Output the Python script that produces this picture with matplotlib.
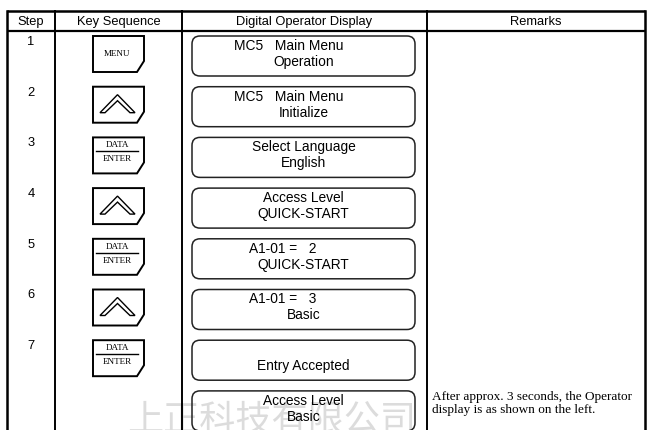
import matplotlib
matplotlib.use("Agg")
import matplotlib.pyplot as plt
from matplotlib.patches import Polygon, FancyBboxPatch

# table content
headers = ["Step", "Key Sequence", "Digital Operator Display", "Remarks"]
steps = ["1", "2", "3", "4", "5", "6", "7", ""]
keys = ["MENU", "UP", "DATA", "UP", "DATA", "UP", "DATA", ""]
display_lines = [
    ["MC5   Main Menu", "Operation"],
    ["MC5   Main Menu", "Initialize"],
    ["Select Language", "English"],
    ["Access Level", "QUICK-START"],
    ["A1-01 =   2", "QUICK-START"],
    ["A1-01 =   3", "Basic"],
    ["", "Entry Accepted"],
    ["Access Level", "Basic"],
]
line_shift = [
    [-15, 0], [-15, 0], [0, 0], [0, 0], [-21, 0], [-21, 0], [0, 0], [0, 0],
]
remarks = ["", "", "", "", "", "", "", "After approx. 3 seconds, the Operator\ndisplay is as shown on the left."]
watermark = "上正科技有限公司"

W, H = 647, 431
fig = plt.figure(figsize=(W / 100, H / 100), dpi=100)
ax = fig.add_axes([0, 0, 1, 1])
ax.set_xlim(0, W)
ax.set_ylim(H, 0)
ax.axis("off")

sans = "Liberation Sans"
serif = "Liberation Serif"

# column borders
cols = [7, 55, 182, 427, 645]
top, head_bot = 12, 32
ax.plot([cols[0], cols[-1]], [top, top], color="black", lw=1.8, solid_capstyle="butt")
ax.plot([cols[0], cols[-1]], [head_bot, head_bot], color="black", lw=1.6, solid_capstyle="butt")
for i, x in enumerate(cols):
    ax.plot([x, x], [top, H], color="black", lw=1.8 if i in (0, 4) else 1.4)

for i, h in enumerate(headers):
    ax.text((cols[i] + cols[i + 1]) / 2, 22, h, ha="center", va="center",
            fontsize=9.3, family=sans)

pitch = 50.7
row0 = 37


def draw_key(kind, y0):
    x0, x1 = 93, 144
    y1 = y0 + 36
    pts = [(x0, y0), (x1, y0), (x1, y1 - 11), (x1 - 7, y1), (x0, y1)]
    ax.add_patch(Polygon(pts, closed=True, fc="white", ec="black", lw=1.4, zorder=3))
    cx = (x0 + x1) / 2 - 1
    if kind == "MENU":
        ax.text(cx, y0 + 17, "MENU", ha="center", va="center", fontsize=6.5,
                family=serif, zorder=4)
    elif kind == "DATA":
        ax.text(cx, y0 + 7, "DATA", ha="center", va="center", fontsize=6.6,
                family=serif, zorder=4)
        ax.plot([x0 + 3, x1 - 6], [y0 + 14, y0 + 14], color="black", lw=1.0, zorder=4)
        ax.text(cx, y0 + 21, "ENTER", ha="center", va="center", fontsize=6.6,
                family=serif, zorder=4)
    elif kind == "UP":
        ax_ = x0 + 24.5
        ay = y0 + 8
        chev = [(x0 + 7, y0 + 26), (ax_, ay), (x1 - 9, y0 + 26),
                (x1 - 14, y0 + 26), (ax_, ay + 6), (x0 + 12, y0 + 26)]
        ax.add_patch(Polygon(chev, closed=True, fc="white", ec="black", lw=1.0, zorder=4))


for r in range(len(steps)):
    y0 = row0 + pitch * r
    if steps[r]:
        ax.text(31, y0 + 5, steps[r], ha="center", va="center", fontsize=9.3, family=sans)
    if keys[r]:
        draw_key(keys[r], y0)
    box = FancyBboxPatch((192, y0), 223, 40, boxstyle="round,pad=0,rounding_size=8",
                         fc="none", ec="#222222", lw=1.1, zorder=3)
    ax.add_patch(box)
    for j, line in enumerate(display_lines[r]):
        if line:
            ax.text(303.5 + line_shift[r][j], y0 + 9 + 16 * j, line, ha="center",
                    va="center", fontsize=9.9, family=sans, zorder=4)
    if remarks[r]:
        for j, line in enumerate(remarks[r].split("\n")):
            ax.text(432, y0 + 5.5 + 12.5 * j, line, ha="left", va="center",
                    fontsize=9.5, family=serif)

ax.text(127, 421, watermark, ha="left", va="center", fontsize=26,
        family=["Noto Sans CJK SC", "DejaVu Sans"], color="#dcdcdc", zorder=0)

fig.savefig("out.png", dpi=100)
